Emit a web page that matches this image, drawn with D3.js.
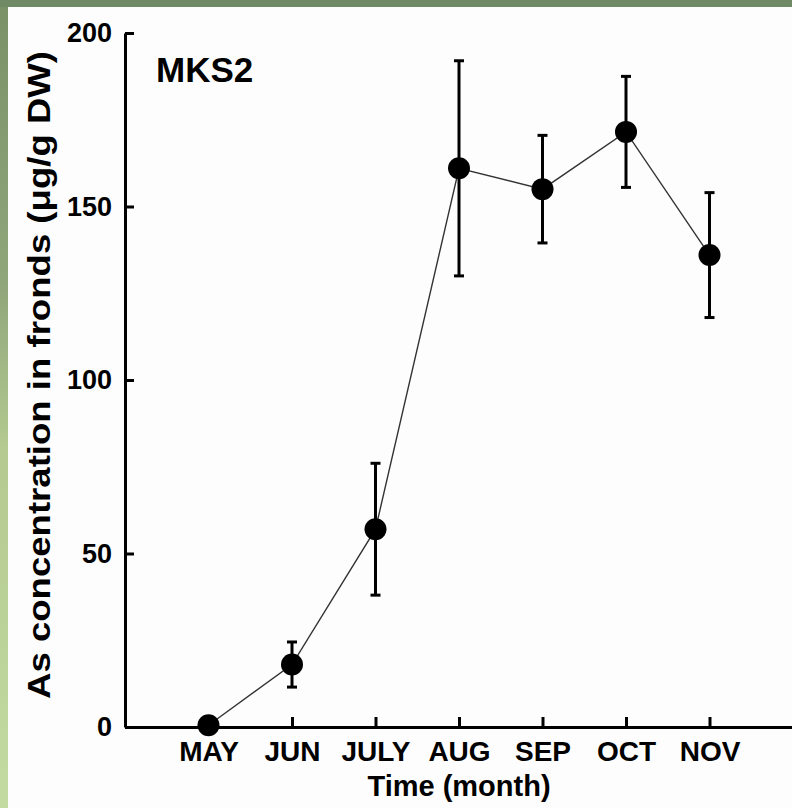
<!DOCTYPE html>
<html>
<head>
<meta charset="utf-8">
<script src="https://cdn.jsdelivr.net/npm/d3@7"></script>
<style>
  html, body { margin: 0; padding: 0; background: #fff; }
  svg { display: block; }
  text { font-family: "Liberation Sans", Arial, sans-serif; font-weight: bold; fill: #000; }
</style>
</head>
<body>
<svg id="chart" width="792" height="808"></svg>
<script>
// ---- data ----
const months = ["MAY", "JUN", "JULY", "AUG", "SEP", "OCT", "NOV"];
const values = [0.5, 18, 57, 161, 155, 171.5, 136];
const errors = [0, 6.5, 19, 31, 15.5, 16, 18];
const yTicks = [0, 50, 100, 150, 200];
const xTickIndex = [0, 1, 2, 3, 4, 5, 6, 7];
const title = "MKS2";
const yLabel = "As concentration in fronds (\u03bcg/g DW)";
const xLabel = "Time (month)";

const svg = d3.select("#chart");
const W = 792, H = 808;

// background frame
const defs = svg.append("defs");
const lg = defs.append("linearGradient").attr("id", "leftband").attr("x1", 0).attr("y1", 0).attr("x2", 0).attr("y2", 1);
lg.append("stop").attr("offset", "0").attr("stop-color", "#7a9168");
lg.append("stop").attr("offset", "0.35").attr("stop-color", "#8fa57a");
lg.append("stop").attr("offset", "0.55").attr("stop-color", "#b3c990");
lg.append("stop").attr("offset", "1").attr("stop-color", "#c3daa1");
svg.append("rect").attr("x", 0).attr("y", 0).attr("width", W).attr("height", H).attr("fill", "#fdfdfd");
svg.append("rect").attr("x", 0).attr("y", 0).attr("width", 8).attr("height", H).attr("fill", "url(#leftband)");
svg.append("rect").attr("x", 0).attr("y", 0).attr("width", W).attr("height", 7).attr("fill", "#6f8a65");

// scales
const x = d3.scaleLinear().domain([-1, 7]).range([125, 793]);
const y = d3.scaleLinear().domain([0, 200]).range([727, 33]);

// y axis
const yAxis = d3.axisLeft(y).tickValues(yTicks).tickSizeInner(-9).tickSizeOuter(0).tickPadding(13);
const gy = svg.append("g").attr("transform", `translate(${x(-1)},0)`).call(yAxis);
gy.select(".domain").attr("stroke", "#000").attr("stroke-width", 3);
gy.selectAll(".tick line").attr("stroke", "#000").attr("stroke-width", 3);
gy.selectAll(".tick text").style("font-size", "27px").attr("fill", "#000");

// x axis
const xAxis = d3.axisBottom(x).tickValues(xTickIndex)
  .tickFormat(i => months[i] || "").tickSizeInner(-10).tickSizeOuter(0).tickPadding(14);
const gx = svg.append("g").attr("transform", `translate(0,${y(0)})`).call(xAxis);
gx.select(".domain").attr("stroke", "#000").attr("stroke-width", 3);
gx.selectAll(".tick line").attr("stroke", "#000").attr("stroke-width", 3);
gx.selectAll(".tick text").style("font-size", "28px").attr("fill", "#000");

// connecting line
const line = d3.line().x((d, i) => x(i)).y(d => y(d));
svg.append("path").datum(values).attr("d", line)
  .attr("fill", "none").attr("stroke", "#333").attr("stroke-width", 1.4);

// error bars
const eb = svg.append("g");
values.forEach((v, i) => {
  if (errors[i] <= 0) return;
  const cx = x(i);
  eb.append("line").attr("x1", cx).attr("x2", cx).attr("y1", y(v + errors[i])).attr("y2", y(v - errors[i]))
    .attr("stroke", "#000").attr("stroke-width", 3);
  [v + errors[i], v - errors[i]].forEach(e => {
    eb.append("line").attr("x1", cx - 5).attr("x2", cx + 5).attr("y1", y(e)).attr("y2", y(e))
      .attr("stroke", "#000").attr("stroke-width", 3);
  });
});

// points
svg.append("g").selectAll("circle").data(values).join("circle")
  .attr("cx", (d, i) => x(i)).attr("cy", d => y(d)).attr("r", 11).attr("fill", "#000");

// title
svg.append("text").attr("x", 156).attr("y", 82).style("font-size", "35px").text(title);

// axis labels
svg.append("text").attr("x", x(3)).attr("y", 796).attr("text-anchor", "middle")
  .style("font-size", "29px").text(xLabel);
svg.append("text").attr("transform", "translate(50,375) rotate(-90)").attr("text-anchor", "middle")
  .style("font-size", "32px").attr("textLength", 648).attr("lengthAdjust", "spacingAndGlyphs").text(yLabel);
</script>
</body>
</html>
